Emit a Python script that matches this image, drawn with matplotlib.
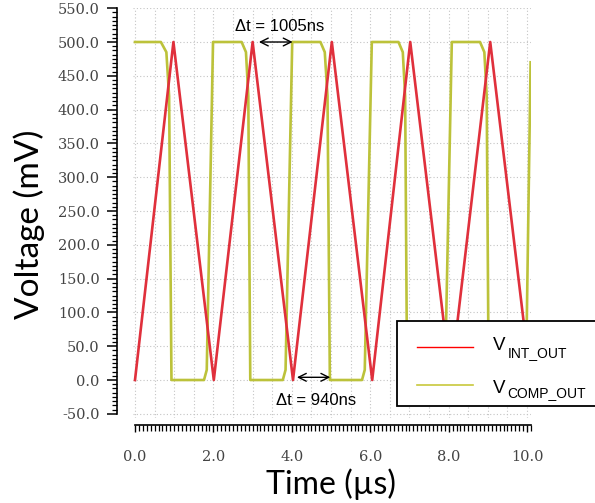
import matplotlib
matplotlib.use("Agg")
import matplotlib.pyplot as plt
from matplotlib.patches import Rectangle
from matplotlib.ticker import MultipleLocator, FixedLocator

# Integrator output (triangle wave), time in µs, voltage in mV
int_t = [0.00, 0.98, 2.01, 3.00, 4.03, 5.02, 6.05, 7.02, 8.05, 9.06, 10.08]
int_v = [0, 500, 0, 500, 0, 500, 0, 500, 0, 500, 5]

# Comparator output (square wave with finite edges)
comp_t = [0.00, 0.66, 0.80, 0.87, 0.93,
          1.76, 1.83, 1.99,
          2.72, 2.83, 2.89, 2.94,
          3.77, 3.84, 4.01,
          4.73, 4.84, 4.91, 4.97,
          5.79, 5.86, 6.04,
          6.72, 6.83, 6.89, 6.94,
          7.84, 7.91, 8.08,
          8.80, 8.91, 8.97, 9.02,
          9.97, 10.09]
comp_v = [500, 500, 485, 420, 0,
          0, 15, 500,
          500, 485, 420, 0,
          0, 15, 500,
          500, 485, 420, 0,
          0, 15, 500,
          500, 485, 420, 0,
          0, 15, 500,
          500, 485, 420, 0,
          0, 470]

y_ticks = [-50, 0, 50, 100, 150, 200, 250, 300, 350, 400, 450, 500, 550]
x_ticks = [0, 2, 4, 6, 8, 10]

W, H = 595, 503
fig = plt.figure(figsize=(W / 100, H / 100), dpi=100)


def fx(px):
    return px / W


def fy(py):
    return 1 - py / H


ax = fig.add_axes([fx(133), fy(418), (531 - 133) / W, (418 - 8) / H])
ax.set_xlim(-0.051, 10.10)
ax.set_ylim(-56.2, 550.3)

# dotted grid
for gx in [0.5 * i for i in range(21)]:
    ax.axvline(gx, color="#c4c4c4", lw=0.8, ls=(0, (1, 2)), zorder=0)
for gy in y_ticks:
    ax.axhline(gy, color="#c4c4c4", lw=0.8, ls=(0, (1, 2)), zorder=0)

ax.plot(comp_t, comp_v, color="#bcc23a", lw=1.9, zorder=2, solid_joinstyle="round")
ax.plot(int_t, int_v, color="#e0303c", lw=1.9, zorder=3, solid_joinstyle="round")

# axes styling: detached rulers
for s in ["top", "right"]:
    ax.spines[s].set_visible(False)
ax.spines["left"].set_position(("outward", 11.5))
ax.spines["bottom"].set_position(("outward", 5.0))
ax.spines["left"].set_bounds(-50, 550)
ax.spines["bottom"].set_bounds(0, 10.1)
ax.spines["left"].set_linewidth(1.2)
ax.spines["bottom"].set_linewidth(1.2)

ax.yaxis.set_major_locator(FixedLocator(y_ticks))
ax.yaxis.set_minor_locator(MultipleLocator(6.25))
ax.xaxis.set_major_locator(FixedLocator(x_ticks))
ax.xaxis.set_minor_locator(FixedLocator([0.1 * i for i in range(102)]))

ax.set_yticklabels([f"{v:.1f}" for v in y_ticks])
ax.set_xticklabels([f"{v:.1f}" for v in x_ticks])

ax.tick_params(axis="y", which="major", length=7.5, width=1.1, direction="out",
               pad=5, labelsize=10.5, labelcolor="#444444")
ax.tick_params(axis="y", which="minor", length=3.5, width=0.9, direction="out")
ax.tick_params(axis="x", which="major", length=5, width=1.0, direction="out",
               pad=13, labelsize=10.5, labelcolor="#444444")
ax.tick_params(axis="x", which="minor", length=4, width=0.9, direction="out")
for lab in ax.get_xticklabels() + ax.get_yticklabels():
    lab.set_fontfamily("DejaVu Serif")

# axis titles
fig.text(fx(29), fy(224), "Voltage (mV)", rotation=90, ha="center", va="center",
         fontsize=24, family="Lato", color="black")
fig.text(fx(331), fy(484), "Time (µs)", ha="center", va="center",
         fontsize=23, family="Lato", color="black")

# Δt annotations
fig.text(fx(280), fy(31), "Δt = 1005ns", ha="center", va="baseline",
         fontsize=12, family="Liberation Sans")
ax.annotate("", xy=(3.16, 500), xytext=(4.02, 500),
            arrowprops=dict(arrowstyle="<->", color="black", lw=1.0,
                            shrinkA=0, shrinkB=0, mutation_scale=14), zorder=5)
fig.text(fx(316), fy(405), "Δt = 940ns", ha="center", va="baseline",
         fontsize=12, family="Liberation Sans")
ax.annotate("", xy=(4.13, 4), xytext=(4.98, 4),
            arrowprops=dict(arrowstyle="<->", color="black", lw=1.0,
                            shrinkA=0, shrinkB=0, mutation_scale=14), zorder=5)

# legend box
fig.patches.append(Rectangle((fx(397), fy(406)), fx(620) - fx(397), fy(321) - fy(406),
                             transform=fig.transFigure, facecolor="white",
                             edgecolor="black", lw=1.3, zorder=10))
fig.lines.append(plt.Line2D([fx(417), fx(473)], [fy(347), fy(347)],
                            transform=fig.transFigure, color="#ff0000", lw=1.0, zorder=11))
fig.lines.append(plt.Line2D([fx(417), fx(473)], [fy(385), fy(385)],
                            transform=fig.transFigure, color="#c8c83c", lw=1.2, zorder=11))
fig.text(fx(493), fy(350), "V", fontsize=13.5, family="Liberation Sans",
         va="baseline", ha="left", zorder=12)
fig.text(fx(508), fy(357), "INT_OUT", fontsize=10, family="Liberation Sans",
         va="baseline", ha="left", zorder=12)
fig.text(fx(493), fy(393), "V", fontsize=13.5, family="Liberation Sans",
         va="baseline", ha="left", zorder=12)
fig.text(fx(507), fy(397), "COMP_OUT", fontsize=10, family="Liberation Sans",
         va="baseline", ha="left", zorder=12)

fig.savefig("out.png", dpi=100)
